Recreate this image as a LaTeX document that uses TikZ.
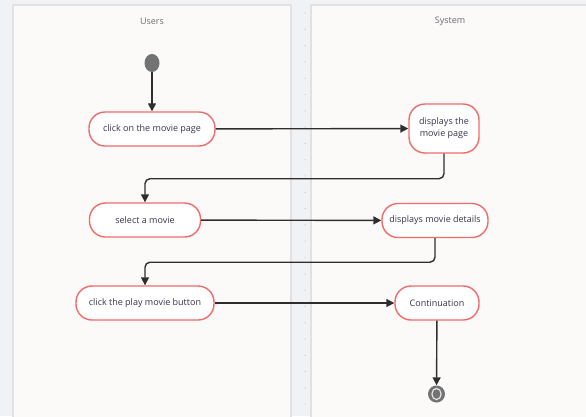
\documentclass[tikz,border=0pt]{standalone}
\usepackage{fontspec}
\setmainfont{Open Sans}
\usetikzlibrary{arrows.meta,shapes.geometric}
\definecolor{pagebg}{HTML}{F1F2F5}
\definecolor{lanebg}{HTML}{FBFAF9}
\definecolor{laneline}{HTML}{E1E1E4}
\definecolor{titlegray}{HTML}{6E6E72}
\definecolor{actred}{HTML}{F26B6B}
\definecolor{acttext}{HTML}{35354A}
\definecolor{wire}{HTML}{2E2E2E}
\definecolor{startgray}{HTML}{737373}
\definecolor{dotgray}{HTML}{C9CBD2}
\tikzset{
  lane/.style={fill=lanebg, draw=laneline, line width=1.5pt},
  lanetitle/.style={font=\fontsize{9}{10}\selectfont, text=titlegray},
  action/.style={draw=actred, fill=white, line width=1.4pt, rounded corners=16pt,
    minimum height=34pt, inner sep=2pt, align=center, text=acttext,
    font=\fontsize{9}{12}\selectfont},
  initial/.style={ellipse, fill=startgray, inner sep=0pt, minimum width=15pt, minimum height=18pt},
  final/.style={circle, fill=startgray, inner sep=0pt, minimum size=17pt,
    path picture={\draw[white!85!startgray, line width=1.1pt]
      (path picture bounding box.center) ellipse (4.6pt and 5.6pt);}},
  flow/.style={draw=wire, line width=1.4pt, -{Triangle[length=8pt,width=8pt]}},
}
\begin{document}
\begin{tikzpicture}[x=1pt, y=-1pt]
  % page and the two swimlanes
  \fill[pagebg] (0,0) rectangle (586,416);
  \useasboundingbox (0,0) rectangle (586,416);
  \draw[lane] (13,5) rectangle (291,425);
  \draw[lane] (311,5) rectangle (595,425);
  \foreach \k in {0,...,25} {
    \fill[dotgray] (305,{13+16.3*\k}) circle (0.7);
  }
  \node[lanetitle] (tUsers) at (152,21) {Users};
  \node[lanetitle] (tSystem) at (450,21) {System};

  % activities
  \node[initial] (start) at (152,63) {};
  \node[action, minimum width=126pt] (n1) at (152,129) {click on the movie page};
  \node[action, minimum width=70pt, minimum height=49pt] (n2) at (444,128.5) {displays the\\movie page};
  \node[action, minimum width=111pt] (n3) at (145,220) {select a movie};
  \node[action, minimum width=106pt] (n4) at (435,220.5) {displays movie details};
  \node[action, minimum width=138pt] (n5) at (145,303) {click the play movie button};
  \node[action, minimum width=84pt] (n6) at (437,303) {Continuation};
  \node[final] (end) at (436.5,394) {};

  % control flow
  \draw[flow] (start) -- (n1);
  \draw[flow] (n1) -- (n2);
  \draw[flow, rounded corners=5pt] (n2.south) -- ++(0,25) -| (n3.north);
  \draw[flow] (n3) -- (n4);
  \draw[flow, rounded corners=5pt] (n4.south) -- ++(0,24) -| (n5.north);
  \draw[flow] (n5) -- (n6);
  \draw[flow] (n6) -- (end);
\end{tikzpicture}
\end{document}
